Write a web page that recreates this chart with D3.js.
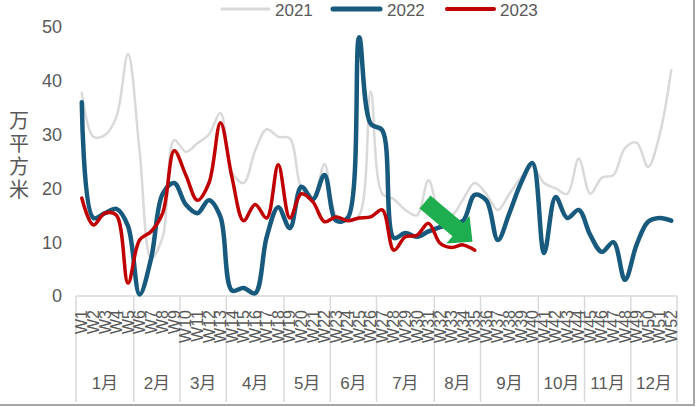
<!DOCTYPE html>
<html><head><meta charset="utf-8">
<script src="https://cdn.jsdelivr.net/npm/d3@7"></script>
<style>body{margin:0;background:#fff}svg{display:block}</style>
</head><body>
<svg id="c" width="700" height="407"></svg>
<script>
const weeks = d3.range(1, 53).map(i => "W" + i);
const months = ["1月","2月","3月","4月","5月","6月","7月","8月","9月","10月","11月","12月"];
const monthWeeks = [5,4,4,5,4,4,5,4,5,4,4,4];
const seriesNames = ["2021","2022","2023"];
const s2021 = [37.8,29.6,29.9,33.3,45,27,7,11,29,26.8,28.4,30,34,23,21,27,31,29.6,29.3,20,18,24.5,15,14,15,38,19,18,16,15,21.5,15.5,15,18,21,19,16,19,22,24,21,20,19,25.5,19,22,22.5,27.5,28.5,24,30,42];
const s2022 = [36,14.5,15.4,16.2,13,0.3,7,19,21,17,15.4,17.8,14.7,1,1.5,0.5,11,16.5,12.6,20.3,18,22.5,14,14.5,48.1,32,30.8,10.8,11.7,11,12,12.8,13.5,14,18.8,17.8,10.4,15.4,21,24.7,8,18.4,14.5,16,11.3,8.2,10,3,9.5,13.8,14.5,14];
const s2023 = [18.2,13.2,15.4,15,2.4,10.4,12,15.4,27,22.5,17.8,21,32.2,22,14,17,14.5,24.4,14.5,19,17.5,13.8,14.7,14,14.5,14.7,16,8.5,11,11.3,13.5,9.8,9,9.5,8.5];
const yTicks = [0,10,20,30,40,50];
const yTitle = ["万","平","方","米"];

const colors = {"2021":"#d9d9d9","2022":"#175a7d","2023":"#c00000"};
const widths = {"2021":2.5,"2022":4.5,"2023":3.5};
const font = "'Liberation Sans', Arial, 'Noto Sans CJK SC', sans-serif";
const txt = "#595959";

const svg = d3.select("#c");
const x = d3.scaleBand().domain(weeks).range([76, 677]).paddingInner(0).paddingOuter(0);
const y = d3.scaleLinear().domain([0, 50]).range([296, 27]);
const xc = w => x(w) + x.bandwidth() / 2;

// y tick labels
svg.append("g").selectAll("text").data(yTicks).join("text")
  .attr("x", 62).attr("y", d => y(d)).attr("dy", "0.35em")
  .attr("text-anchor", "end").attr("font-family", font).attr("font-size", 18)
  .attr("fill", txt).text(d => d);

// y title (stacked)
svg.append("g").selectAll("text").data(yTitle).join("text")
  .attr("x", 19).attr("y", (d, i) => 121 + i * 23).attr("dy", "0.35em")
  .attr("text-anchor", "middle").attr("font-family", font).attr("font-size", 20)
  .attr("fill", txt).text(d => d);

// x axis line
svg.append("line").attr("x1", 76).attr("x2", 677).attr("y1", y(0)).attr("y2", y(0))
  .attr("stroke", "#d9d9d9").attr("stroke-width", 1.5);

// month boundaries
const bounds = [0];
monthWeeks.forEach((n, i) => bounds.push(bounds[i] + n));
const bx = i => i < 52 ? x(weeks[i]) : x(weeks[51]) + x.bandwidth();
svg.append("g").selectAll("line").data(bounds).join("line")
  .attr("x1", d => bx(d)).attr("x2", d => bx(d)).attr("y1", y(0)).attr("y2", 402)
  .attr("stroke", "#d9d9d9").attr("stroke-width", 1.5);

// week labels
svg.append("g").selectAll("text").data(weeks).join("text")
  .attr("transform", d => `translate(${xc(d)},310) rotate(-90)`)
  .attr("dy", "0.35em").attr("text-anchor", "end")
  .attr("font-family", font).attr("font-size", 16).attr("fill", txt).text(d => d);

// month labels
svg.append("g").selectAll("text").data(months).join("text")
  .attr("x", (d, i) => (bx(bounds[i]) + bx(bounds[i + 1])) / 2).attr("y", 383)
  .attr("dy", "0.35em").attr("text-anchor", "middle")
  .attr("font-family", font).attr("font-size", 17).attr("fill", txt).text(d => d);

// lines
const data = {"2021": s2021, "2022": s2022, "2023": s2023};
const line = d3.line().x((d, i) => xc(weeks[i])).y(d => y(d)).curve(d3.curveCatmullRom.alpha(0.5));
seriesNames.forEach(n => {
  svg.append("path").datum(data[n]).attr("d", line).attr("fill", "none")
    .attr("stroke", colors[n]).attr("stroke-width", widths[n])
    .attr("stroke-linejoin", "round").attr("stroke-linecap", "round");
});

// green arrow annotation
const L = 62, hl = 19, sw = 8.5, hw = 18;
svg.append("path")
  .attr("transform", "translate(425,202) rotate(40)")
  .attr("d", `M0,${-sw}L${L - hl},${-sw}L${L - hl},${-hw}L${L},0L${L - hl},${hw}L${L - hl},${sw}L0,${sw}Z`)
  .attr("fill", "#1fae4f");

// legend
const legX = [{lx: 222, tx: 275}, {lx: 333, tx: 387}, {lx: 447, tx: 500}];
seriesNames.forEach((n, i) => {
  svg.append("line").attr("x1", legX[i].lx).attr("x2", legX[i].lx + 47).attr("y1", 9).attr("y2", 9)
    .attr("stroke", colors[n]).attr("stroke-width", widths[n] + 0.5).attr("stroke-linecap", "round");
  svg.append("text").attr("x", legX[i].tx).attr("y", 10).attr("dy", "0.35em")
    .attr("font-family", font).attr("font-size", 17).attr("fill", txt).text(n);
});

// frame
svg.append("line").attr("x1", 694).attr("x2", 694).attr("y1", 0).attr("y2", 405).attr("stroke", "#a6a6a6").attr("stroke-width", 2);
svg.append("line").attr("x1", 0).attr("x2", 695).attr("y1", 405).attr("y2", 405).attr("stroke", "#a6a6a6").attr("stroke-width", 2);
</script>
</body></html>
